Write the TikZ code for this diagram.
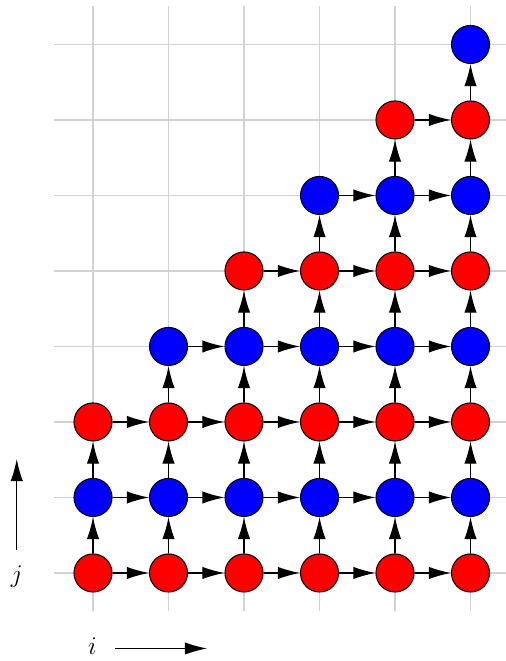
\documentclass[tikz,border=0pt]{standalone}
\usepackage{tikz}
\usetikzlibrary{arrows.meta}

\begin{document}
\begin{tikzpicture}[x=1.5cm, y=1.5cm,
    gridline/.style={draw=gray!35, line width=0.8pt},
    cell0/.style={circle, draw=black, fill=red, line width=0.6pt, minimum size=0.756cm, inner sep=0pt},
    cell1/.style={circle, draw=black, fill=blue, line width=0.6pt, minimum size=0.756cm, inner sep=0pt},
    flow/.style={-{Latex[length=12.5pt, width=7pt]}, line width=0.7pt},
    axislabel/.style={font=\fontsize{15.5}{18}\selectfont, inner sep=0pt}]
\useasboundingbox (-1.232,-1.166) rectangle (5.457,7.589);
% background grid
\foreach \j in {0,...,7} \draw[gridline] (-0.52,\j) -- (5.5,\j);
\foreach \i in {0,...,5} \draw[gridline] (\i,-0.5) -- (\i,7.51);
% cells, red on even rows and blue on odd rows
\foreach \j in {0,...,7} {
  \pgfmathtruncatemacro{\imin}{max(0,\j-2)}
  \pgfmathtruncatemacro{\c}{mod(\j,2)}
  \foreach \i in {\imin,...,5}
    \node[cell\c] (p\i-\j) at (\i,\j) {};
}
% dependencies
\foreach \j in {0,...,7} {
  \pgfmathtruncatemacro{\imin}{max(0,\j-2)}
  \foreach \i in {\imin,...,5} {
    \pgfmathtruncatemacro{\h}{\i-1}
    \pgfmathtruncatemacro{\b}{\j-1}
    \ifnum\i>\imin \draw[flow] (p\h-\j) -- (p\i-\j); \fi
    \ifnum\j>0 \draw[flow] (p\i-\b) -- (p\i-\j); \fi
  }
}
% axes
\node[axislabel] (ilab) at (-0.01,-0.975) {$i$};
\node[axislabel] (jlab) at (-1.01,-0.05) {$j$};
\coordinate (ifrom) at (0.29,-1.0);
\coordinate (ito) at (1.51,-1.0);
\coordinate (jfrom) at (-1.01,0.31);
\coordinate (jto) at (-1.01,1.51);
\draw[flow] (ifrom) -- (ito);
\draw[flow] (jfrom) -- (jto);
\end{tikzpicture}
\end{document}
